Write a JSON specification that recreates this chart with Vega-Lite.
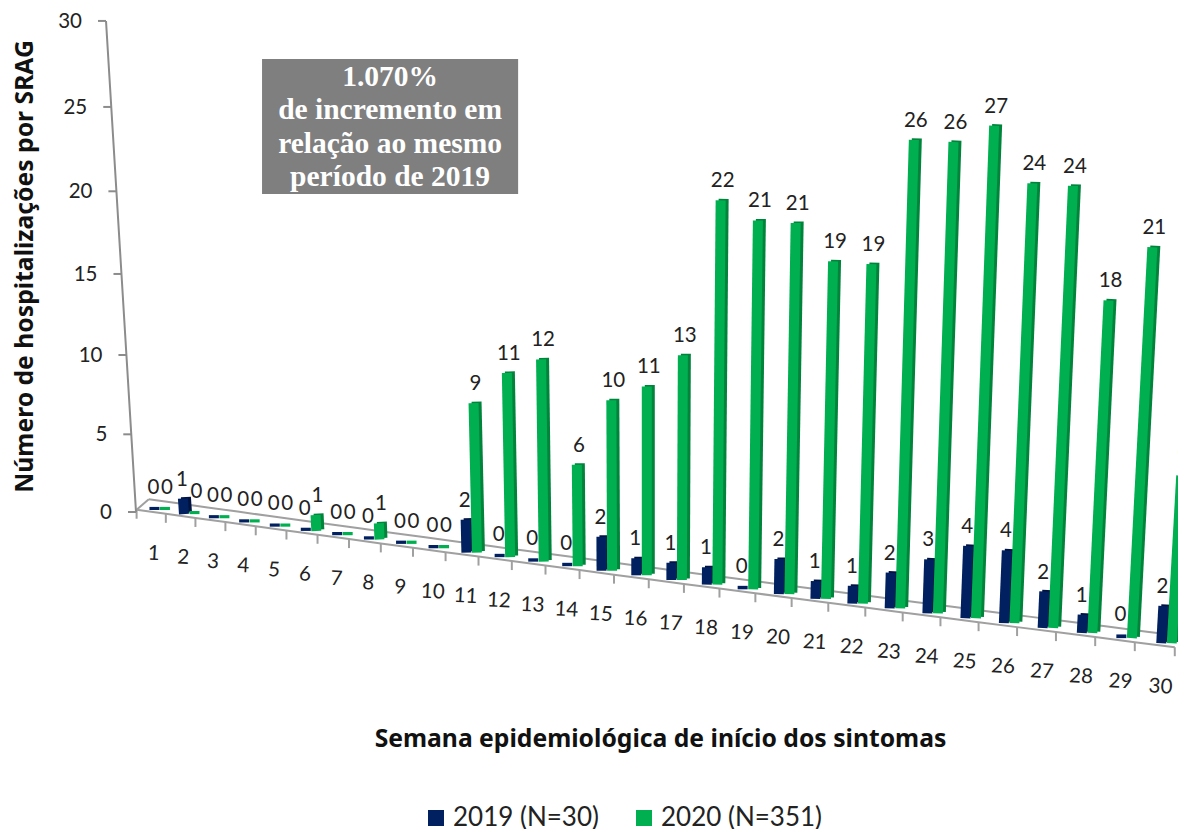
{
"$schema":"https://vega.github.io/schema/vega-lite/v6.json",
"width":1178,"height":829,"padding":0,"autosize":{"type":"none"},
"background":"white",
"config":{"view":{"stroke":null},"text":{"font":"Lato"},"rule":{"strokeCap":"butt"}},
"datasets":{
"casos":[
{"semana":1,"ano":2019,"serie":"2019 (N=30)","casos":0},{"semana":2,"ano":2019,"serie":"2019 (N=30)","casos":1},{"semana":3,"ano":2019,"serie":"2019 (N=30)","casos":0},{"semana":4,"ano":2019,"serie":"2019 (N=30)","casos":0},{"semana":5,"ano":2019,"serie":"2019 (N=30)","casos":0},{"semana":6,"ano":2019,"serie":"2019 (N=30)","casos":0},{"semana":7,"ano":2019,"serie":"2019 (N=30)","casos":0},{"semana":8,"ano":2019,"serie":"2019 (N=30)","casos":0},{"semana":9,"ano":2019,"serie":"2019 (N=30)","casos":0},{"semana":10,"ano":2019,"serie":"2019 (N=30)","casos":0},
{"semana":11,"ano":2019,"serie":"2019 (N=30)","casos":2},{"semana":12,"ano":2019,"serie":"2019 (N=30)","casos":0},{"semana":13,"ano":2019,"serie":"2019 (N=30)","casos":0},{"semana":14,"ano":2019,"serie":"2019 (N=30)","casos":0},{"semana":15,"ano":2019,"serie":"2019 (N=30)","casos":2},{"semana":16,"ano":2019,"serie":"2019 (N=30)","casos":1},{"semana":17,"ano":2019,"serie":"2019 (N=30)","casos":1},{"semana":18,"ano":2019,"serie":"2019 (N=30)","casos":1},{"semana":19,"ano":2019,"serie":"2019 (N=30)","casos":0},{"semana":20,"ano":2019,"serie":"2019 (N=30)","casos":2},
{"semana":21,"ano":2019,"serie":"2019 (N=30)","casos":1},{"semana":22,"ano":2019,"serie":"2019 (N=30)","casos":1},{"semana":23,"ano":2019,"serie":"2019 (N=30)","casos":2},{"semana":24,"ano":2019,"serie":"2019 (N=30)","casos":3},{"semana":25,"ano":2019,"serie":"2019 (N=30)","casos":4},{"semana":26,"ano":2019,"serie":"2019 (N=30)","casos":4},{"semana":27,"ano":2019,"serie":"2019 (N=30)","casos":2},{"semana":28,"ano":2019,"serie":"2019 (N=30)","casos":1},{"semana":29,"ano":2019,"serie":"2019 (N=30)","casos":0},{"semana":30,"ano":2019,"serie":"2019 (N=30)","casos":2},
{"semana":1,"ano":2020,"serie":"2020 (N=351)","casos":0},{"semana":2,"ano":2020,"serie":"2020 (N=351)","casos":0},{"semana":3,"ano":2020,"serie":"2020 (N=351)","casos":0},{"semana":4,"ano":2020,"serie":"2020 (N=351)","casos":0},{"semana":5,"ano":2020,"serie":"2020 (N=351)","casos":0},{"semana":6,"ano":2020,"serie":"2020 (N=351)","casos":1},{"semana":7,"ano":2020,"serie":"2020 (N=351)","casos":0},{"semana":8,"ano":2020,"serie":"2020 (N=351)","casos":1},{"semana":9,"ano":2020,"serie":"2020 (N=351)","casos":0},{"semana":10,"ano":2020,"serie":"2020 (N=351)","casos":0},
{"semana":11,"ano":2020,"serie":"2020 (N=351)","casos":9},{"semana":12,"ano":2020,"serie":"2020 (N=351)","casos":11},{"semana":13,"ano":2020,"serie":"2020 (N=351)","casos":12},{"semana":14,"ano":2020,"serie":"2020 (N=351)","casos":6},{"semana":15,"ano":2020,"serie":"2020 (N=351)","casos":10},{"semana":16,"ano":2020,"serie":"2020 (N=351)","casos":11},{"semana":17,"ano":2020,"serie":"2020 (N=351)","casos":13},{"semana":18,"ano":2020,"serie":"2020 (N=351)","casos":22},{"semana":19,"ano":2020,"serie":"2020 (N=351)","casos":21},{"semana":20,"ano":2020,"serie":"2020 (N=351)","casos":21},
{"semana":21,"ano":2020,"serie":"2020 (N=351)","casos":19},{"semana":22,"ano":2020,"serie":"2020 (N=351)","casos":19},{"semana":23,"ano":2020,"serie":"2020 (N=351)","casos":26},{"semana":24,"ano":2020,"serie":"2020 (N=351)","casos":26},{"semana":25,"ano":2020,"serie":"2020 (N=351)","casos":27},{"semana":26,"ano":2020,"serie":"2020 (N=351)","casos":24},{"semana":27,"ano":2020,"serie":"2020 (N=351)","casos":24},{"semana":28,"ano":2020,"serie":"2020 (N=351)","casos":18},{"semana":29,"ano":2020,"serie":"2020 (N=351)","casos":21},{"semana":30,"ano":2020,"serie":"2020 (N=351)","casos":9}
],
"piso":[{"k":0},{"k":1},{"k":2},{"k":3},{"k":4},{"k":5},{"k":6},{"k":7},{"k":8},{"k":9},{"k":10},{"k":11},{"k":12},{"k":13},{"k":14},{"k":15},{"k":16},{"k":17},{"k":18},{"k":19},{"k":20},{"k":21},{"k":22},{"k":23},{"k":24},{"k":25},{"k":26},{"k":27},{"k":28},{"k":29},{"k":30}],
"eixo":[{"v":0},{"v":5},{"v":10},{"v":15},{"v":20},{"v":25},{"v":30}],
"nota":[{"texto":"1.070%\nde incremento em\nrelação ao mesmo\nperíodo de 2019"}]
},
"layer":[
{"data":{"name":"piso"},
 "transform":[
 {"calculate":"datum.k+0.2","as":"w"},
 {"calculate":"datum.w+0.0064*datum.w*datum.w","as":"xf"},
 {"calculate":"-(-2+4.1*(datum.w-1)+0.017*(datum.w-1)*(datum.w-1))/16.33","as":"yb"},
 {"calculate":"datum.yb-3/16.33","as":"yf"},
 {"calculate":"datum.yf-9/16.33","as":"yt"},
 {"calculate":"datum.yb+7.5/16.33","as":"yc"},
 {"calculate":"datum.xf+0.42","as":"xc"}
 ],
 "layer":[
 {"mark":{"type":"line","color":"#A0A0A0","strokeWidth":2},"encoding":{"x":{"field":"xc","type":"quantitative"},"y":{"field":"yc","type":"quantitative"},"order":{"field":"k"}}},
 {"mark":{"type":"line","color":"#A0A0A0","strokeWidth":2},"encoding":{"x":{"field":"xf","type":"quantitative"},"y":{"field":"yf","type":"quantitative"},"order":{"field":"k"}}},
 {"mark":{"type":"rule","color":"#A0A0A0","strokeWidth":2},"encoding":{"x":{"field":"xf","type":"quantitative"},"y":{"field":"yf","type":"quantitative"},"y2":{"field":"yt"}}},
 {"transform":[{"filter":"datum.k==0"}],"mark":{"type":"rule","color":"#A0A0A0","strokeWidth":2},"encoding":{"x":{"field":"xf","type":"quantitative"},"x2":{"field":"xc"},"y":{"field":"yf","type":"quantitative"},"y2":{"field":"yc"}}}
 ]},
{"data":{"name":"eixo"},
 "transform":[
 {"calculate":"(15.37*datum.v+0.0333*datum.v*datum.v)/16.33","as":"ya"},
 {"calculate":"0.18-datum.ya*0.03444","as":"xa"},
 {"calculate":"datum.xa-8/28.97","as":"xt"}
 ],
 "layer":[
 {"mark":{"type":"line","color":"#8C8C8C","strokeWidth":2},"encoding":{"x":{"field":"xa","type":"quantitative"},"y":{"field":"ya","type":"quantitative"},"order":{"field":"v"}}},
 {"mark":{"type":"rule","color":"#8C8C8C","strokeWidth":2},"encoding":{"x":{"field":"xt","type":"quantitative"},"x2":{"field":"xa"},"y":{"field":"ya","type":"quantitative"}}},
 {"mark":{"type":"text","align":"right","baseline":"middle","fontSize":20.5,"dx":-16,"dy":1,"color":"#222222"},"encoding":{"x":{"field":"xt","type":"quantitative"},"y":{"field":"ya","type":"quantitative"},"text":{"field":"v","type":"quantitative"}}}
 ]},
{"data":{"name":"casos"},
 "transform":[
 {"calculate":"datum.semana+0.0064*datum.semana*datum.semana+(datum.ano==2020?0.173:-0.19)","as":"xb"},
 {"calculate":"-(-2+4.1*(datum.semana-1)+0.017*(datum.semana-1)*(datum.semana-1))/16.33","as":"yb"},
 {"calculate":"datum.yb+(max(datum.casos,0.2)*(15.4+0.105*datum.semana)+0.008*datum.casos*datum.casos)/16.33","as":"yt"},
 {"calculate":"datum.xb+datum.casos*0.075*(datum.semana-16)/28.97","as":"xt"},
 {"calculate":"datum.xb+3/28.97","as":"xd"},
 {"calculate":"datum.xt+3/28.97","as":"xdt"},
 {"calculate":"datum.yt+1.5/16.33","as":"ydt"},
 {"calculate":"datum.yb+1.5/16.33","as":"ydb"},
 {"calculate":"datum.xt+(datum.ano==2020?2:-1)/28.97","as":"xl"},
 {"calculate":"datum.semana+0.0064*datum.semana*datum.semana","as":"xe"}
 ],
 "layer":[
 {"transform":[{"filter":"datum.casos>0"}],"mark":{"type":"rule","size":10},"encoding":{"x":{"field":"xd","type":"quantitative","scale":{"domain":[-4.515,36.148],"nice":false,"zero":false},"axis":{"title":"Semana epidemiológica de início dos sintomas","labels":false,"ticks":false,"domain":false,"grid":false,"titleX":660,"titleY":-90,"titleFontSize":24.7,"titleFont":"Noto Sans","titleFontWeight":"bold","titleColor":"#111111","titleAlign":"center","titleBaseline":"middle"}},"x2":{"field":"xdt"},"y":{"field":"ydb","type":"quantitative","scale":{"domain":[-19.412,31.354],"nice":false,"zero":false},"axis":{"title":"Número de hospitalizações por SRAG","labels":false,"ticks":false,"domain":false,"grid":false,"titleX":25,"titleY":266,"titleAngle":-90,"titleFontSize":24.7,"titleFont":"Noto Sans","titleFontWeight":"bold","titleColor":"#111111","titleAlign":"center","titleBaseline":"middle"}},"y2":{"field":"ydt"},"color":{"condition":{"test":"datum.ano==2019","value":"#00123F"},"value":"#00843C"}}},
 {"mark":{"type":"rule","size":10},"encoding":{"x":{"field":"xb","type":"quantitative"},"x2":{"field":"xt"},"y":{"field":"yb","type":"quantitative"},"y2":{"field":"yt"},"color":{"field":"serie","type":"nominal","scale":{"domain":["2019 (N=30)","2020 (N=351)"],"range":["#002060","#00B050"]},"legend":{"orient":"none","legendX":423,"legendY":805,"direction":"horizontal","title":null,"symbolType":"square","symbolSize":256,"labelFontSize":26,"labelFont":"Lato","labelColor":"#222222","labelLimit":400,"columnPadding":32,"labelOffset":4,"encode":{"symbols":{"update":{"fill":{"scale":"color","field":"value"},"strokeWidth":{"value":0},"opacity":{"value":1}}}}}}}},
 {"mark":{"type":"text","baseline":"middle","fontSize":20.5,"dy":-19,"color":"#222222"},"encoding":{"x":{"field":"xl","type":"quantitative"},"y":{"field":"yt","type":"quantitative"},"text":{"field":"casos","type":"quantitative"}}},
 {"transform":[{"filter":"datum.ano==2019"}],"mark":{"type":"text","baseline":"middle","fontSize":20.5,"dy":44,"dx":-4,"color":"#222222","angle":3},"encoding":{"x":{"field":"xe","type":"quantitative"},"y":{"field":"yb","type":"quantitative"},"text":{"field":"semana","type":"quantitative"}}}
 ]},
{"data":{"name":"nota"},
 "layer":[
 {"mark":{"type":"rect","color":"#7F7F7F"},"encoding":{"x":{"datum":4.53,"type":"quantitative"},"x2":{"datum":13.37},"y":{"datum":27.74,"type":"quantitative"},"y2":{"datum":19.47}}},
 {"mark":{"type":"text","font":"Liberation Serif","fontWeight":"bold","fontSize":29.5,"color":"white","lineBreak":"\n","lineHeight":33.5,"align":"center","baseline":"middle"},"encoding":{"x":{"datum":8.95,"type":"quantitative"},"y":{"datum":26.64,"type":"quantitative"},"text":{"field":"texto","type":"nominal"}}}
 ]}
]
}
